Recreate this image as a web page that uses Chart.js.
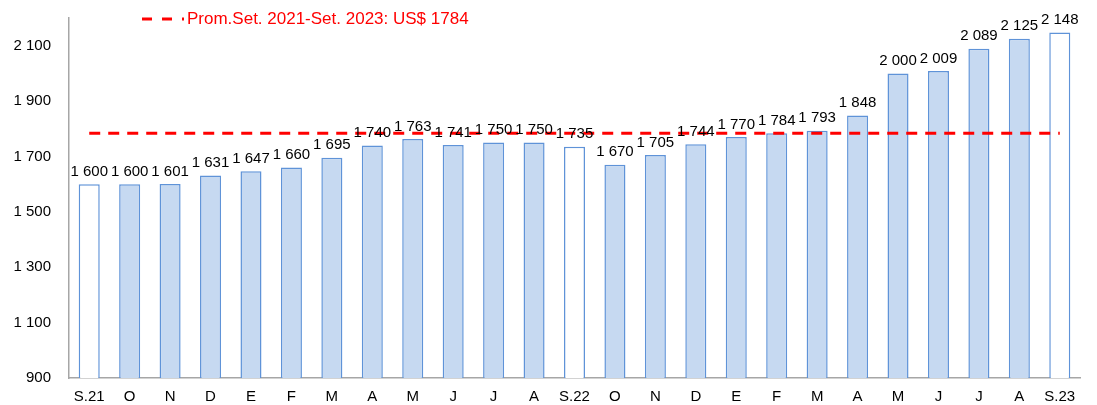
<!DOCTYPE html>
<html>
<head>
<meta charset="utf-8">
<script src="https://cdn.jsdelivr.net/npm/chart.js@4"></script>
<style>
    html, body { margin: 0; padding: 0; background: #fff; }
    #wrap { position: relative; width: 1097px; height: 405px; }
    #legend {
        position: absolute; left: 142px; top: 8px;
        font-family: "Liberation Sans", Arial, sans-serif; font-size: 17px;
        color: #ff0000; white-space: nowrap; line-height: 22px;
    }
    #legend canvas { vertical-align: middle; margin-right: 3px; position: relative; top: -1px; }
</style>
</head>
<body>
<div id="wrap">
    <canvas id="chart" width="1097" height="405"></canvas>
    <div id="legend"><canvas id="legend-key" width="42" height="6"></canvas><span id="legend-text"></span></div>
</div>
<script>
/* Monthly values, Sep 2021 - Sep 2023 */
var categories = ['S.21', 'O', 'N', 'D', 'E', 'F', 'M', 'A', 'M', 'J', 'J', 'A',
                  'S.22', 'O', 'N', 'D', 'E', 'F', 'M', 'A', 'M', 'J', 'J', 'A', 'S.23'];
var values = [1600, 1600, 1601, 1631, 1647, 1660, 1695, 1740, 1763, 1741, 1750, 1750,
              1735, 1670, 1705, 1744, 1770, 1784, 1793, 1848, 2000, 2009, 2089, 2125, 2148];
var averageValue = 1784;
var averageLabel = 'Prom.Set. 2021-Set. 2023: US$ 1784';
var yTicks = [900, 1100, 1300, 1500, 1700, 1900, 2100];

var FONT = '"Liberation Sans", Arial, sans-serif';
var BAR_FILL = '#c6d9f1';
var BAR_LINE = '#5f93d8';

function fmt(v) {
    return String(v).replace(/\B(?=(\d{3})+(?!\d))/g, ' ');
}

// September bars are hollow
var fills = categories.map(function(c) {
    return c.indexOf('S.') === 0 ? '#ffffff' : BAR_FILL;
});

// Legend key (dashed red line)
var key = document.getElementById('legend-key').getContext('2d');
key.strokeStyle = '#ff0000';
key.lineWidth = 3;
key.setLineDash([10, 10]);
key.beginPath();
key.moveTo(0, 3);
key.lineTo(42, 3);
key.stroke();
document.getElementById('legend-text').textContent = averageLabel;

var valueLabels = {
    id: 'valueLabels',
    afterDatasetsDraw: function(chart) {
        var ctx = chart.ctx;
        var meta = chart.getDatasetMeta(1);
        ctx.save();
        ctx.font = '15px ' + FONT;
        ctx.fillStyle = '#000000';
        ctx.textAlign = 'center';
        ctx.textBaseline = 'bottom';
        meta.data.forEach(function(bar, i) {
            ctx.fillText(fmt(values[i]), bar.x, bar.y - 5);
        });
        ctx.restore();
    }
};

new Chart(document.getElementById('chart'), {
    data: {
        labels: categories,
        datasets: [{
            type: 'line',
            label: averageLabel,
            data: categories.map(function() { return averageValue; }),
            borderColor: '#ff0000',
            borderWidth: 3,
            borderDash: [11, 8],
            pointRadius: 0,
            fill: false,
            order: 0
        }, {
            type: 'bar',
            label: 'Valor',
            data: values,
            backgroundColor: fills,
            borderColor: BAR_LINE,
            borderWidth: 1.5,
            barPercentage: 0.52,
            categoryPercentage: 1,
            order: 1
        }]
    },
    options: {
        responsive: false,
        animation: false,
        layout: { padding: { top: 18, right: 17, left: 0, bottom: 0 } },
        plugins: {
            legend: { display: false },
            tooltip: { enabled: false }
        },
        scales: {
            x: {
                grid: { display: false, drawTicks: false },
                border: { display: true, color: '#a6a6a6', width: 1.5 },
                ticks: { color: '#000', font: { family: FONT, size: 15 }, padding: 10, autoSkip: false, maxRotation: 0 },
                afterFit: function(scale) { scale.height = 27; }
            },
            y: {
                min: 900,
                max: 2200,
                grid: { display: false, drawTicks: false },
                border: { display: true, color: '#a6a6a6', width: 1.5 },
                ticks: {
                    color: '#000',
                    font: { family: FONT, size: 15 },
                    padding: 18,
                    callback: function(v) { return fmt(v); }
                },
                afterBuildTicks: function(scale) {
                    scale.ticks = yTicks.map(function(v) { return { value: v }; });
                },
                afterFit: function(scale) {
                    scale.width = 69;
                    scale.paddingTop = 0;
                    scale.paddingBottom = 0;
                }
            }
        }
    },
    plugins: [valueLabels]
});
</script>
</body>
</html>
